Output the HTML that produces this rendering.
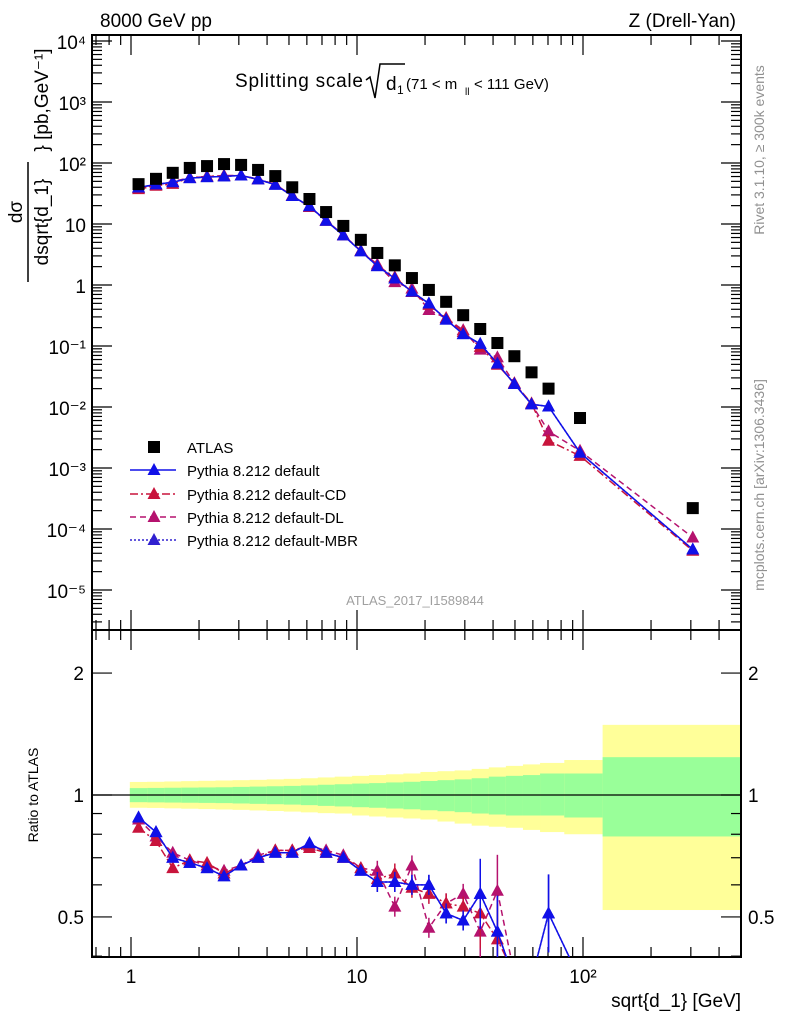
<!DOCTYPE html>
<html><head><meta charset="utf-8"><style>
html,body{margin:0;padding:0;background:#fff;width:786px;height:1024px;overflow:hidden;}
svg{display:block;overflow:hidden;font-family:"Liberation Sans",sans-serif;}
</style></head><body>
<svg id="c" width="786" height="1024" viewBox="0 0 786 1024" xmlns="http://www.w3.org/2000/svg"></svg>
<script>
const xVals=[1.08,1.29,1.53,1.82,2.17,2.58,3.07,3.65,4.35,5.17,6.16,7.3,8.7,10.4,12.3,14.7,17.5,20.8,24.8,29.5,35.1,41.8,49.7,59.2,70.4,97,306];
const atlas=[45,55,69,83,89,96,93,77,61,40,25.7,15.7,9.3,5.5,3.35,2.1,1.3,0.83,0.53,0.32,0.19,0.112,0.068,0.037,0.02,0.0066,0.00022];
const rDefault=[0.88,0.81,0.70,0.68,0.66,0.63,0.67,0.70,0.72,0.72,0.76,0.72,0.70,0.65,0.61,0.61,0.60,0.60,0.51,0.49,0.57,0.46,0.35,0.30,0.51,0.27,0.21];
const rCD=[0.83,0.77,0.66,0.69,0.68,0.64,0.67,0.70,0.73,0.73,0.74,0.72,0.70,0.66,0.62,0.64,0.59,0.57,0.54,0.53,0.51,0.44,0.36,0.31,0.14,0.24,0.20];
const rDL=[0.87,0.79,0.72,0.69,0.67,0.65,0.67,0.71,0.73,0.73,0.75,0.73,0.71,0.66,0.65,0.53,0.67,0.47,0.54,0.57,0.46,0.58,0.36,0.30,0.20,0.29,0.33];
const rMBR=[0.88,0.81,0.70,0.68,0.66,0.63,0.67,0.70,0.72,0.72,0.76,0.72,0.70,0.65,0.61,0.61,0.60,0.60,0.51,0.49,0.57,0.46,0.35,0.30,0.51,0.27,0.21];
const yelUp=[0.077,0.078,0.08,0.082,0.084,0.086,0.088,0.09,0.093,0.096,0.10,0.105,0.11,0.115,0.12,0.125,0.13,0.14,0.145,0.15,0.16,0.17,0.18,0.19,0.20,0.22,0.49];
const yelDn=[0.07,0.071,0.073,0.075,0.077,0.079,0.081,0.084,0.087,0.09,0.094,0.098,0.10,0.11,0.115,0.12,0.125,0.13,0.14,0.15,0.16,0.165,0.17,0.18,0.19,0.20,0.48];
const grnUp=[0.04,0.041,0.042,0.043,0.044,0.045,0.047,0.049,0.051,0.053,0.056,0.06,0.063,0.067,0.07,0.074,0.078,0.083,0.088,0.093,0.10,0.11,0.115,0.12,0.13,0.13,0.24];
const grnDn=[0.04,0.041,0.042,0.043,0.044,0.045,0.047,0.049,0.051,0.053,0.056,0.06,0.063,0.067,0.07,0.074,0.078,0.083,0.088,0.093,0.10,0.105,0.11,0.11,0.11,0.12,0.21];
const yTickLabels=["10⁴","10³","10²","10","1","10⁻¹","10⁻²","10⁻³","10⁻⁴","10⁻⁵"];

const S=document.getElementById('c');const NS="http://www.w3.org/2000/svg";
function el(t,a,p){const e=document.createElementNS(NS,t);for(const k in a)e.setAttribute(k,a[k]);(p||S).appendChild(e);return e;}
const L=92,R=741,T=35,MID=630,B=957;
const X=v=>131+226*Math.log10(v);
const Y=v=>285-61*Math.log10(v);
const RY=v=>795-405*Math.log10(Math.max(v,0.35));
const clipT=el('clipPath',{id:'ct'});el('rect',{x:L,y:T,width:R-L,height:MID-T},clipT);
const clipB=el('clipPath',{id:'cb'});el('rect',{x:L,y:MID,width:R-L,height:B-MID},clipB);
const gB=el('g',{'clip-path':'url(#cb)'});

function edges(i){const lx=Math.log10(xVals[i]);let lo,hi;
 if(i===0)lo=lx-(Math.log10(xVals[1])-lx)/2;else lo=(lx+Math.log10(xVals[i-1]))/2;
 if(i===xVals.length-1)hi=Math.log10(500);else if(i===xVals.length-2)hi=lx+0.1;else hi=(lx+Math.log10(xVals[i+1]))/2;
 if(i===xVals.length-1)lo=Math.log10(xVals[i-1])+0.1;
 return [131+226*lo,131+226*hi];}
xVals.forEach((v,i)=>{const [a,b]=edges(i);
 const y=el('rect',{x:a,y:RY(1+yelUp[i]),width:Math.min(b,R)-a+0.5,height:RY(1-yelDn[i])-RY(1+yelUp[i]),fill:'#ffff99'},gB);
 
 const g=el('rect',{x:a,y:RY(1+grnUp[i]),width:Math.min(b,R)-a+0.5,height:RY(1-grnDn[i])-RY(1+grnUp[i]),fill:'#99ff99'},gB);
 });
el('line',{x1:L,x2:R,y1:795,y2:795,stroke:'#000','stroke-width':1.2});
el('rect',{x:L,y:T,width:R-L,height:MID-T,fill:'none',stroke:'#000','stroke-width':2});
el('rect',{x:L,y:MID,width:R-L,height:B-MID,fill:'none',stroke:'#000','stroke-width':2});
for(let d=-1;d<=2;d++)for(let m=1;m<10;m++){const v=m*Math.pow(10,d);const x=X(v);if(x<L||x>R)continue;const len=m===1?20:10;
 [[T,1],[MID,-1],[MID,1],[B,-1]].forEach(([y0,s])=>el('line',{x1:x,x2:x,y1:y0,y2:y0+s*len,stroke:'#000','stroke-width':1.2}));}
for(let d=-6;d<=4;d++)for(let m=1;m<10;m++){const v=m*Math.pow(10,d);const y=Y(v);if(y<T||y>MID)continue;const len=m===1?20:10;
 el('line',{x1:L,x2:L+len,y1:y,y2:y,stroke:'#000','stroke-width':1.2});el('line',{x1:R,x2:R-len,y1:y,y2:y,stroke:'#000','stroke-width':1.2});}
[0.4,0.5,0.6,0.7,0.8,0.9,1,2].forEach(v=>{const y=RY(v);const len=(v===0.5||v===1||v===2)?20:10;
 el('line',{x1:L,x2:L+len,y1:y,y2:y,stroke:'#000','stroke-width':1.2});el('line',{x1:R,x2:R-len,y1:y,y2:y,stroke:'#000','stroke-width':1.2});});
function txt(s,a,name){const t=el('text',a);t.textContent=s;return t;}
yTickLabels.forEach((s,i)=>txt(s,{x:86,y:42+61*i+7,'font-size':19,'text-anchor':'end'},'y-tick-label'));
[["1",1],["10",10],["10²",100]].forEach(([s,v])=>txt(s,{x:X(v),y:983,'font-size':19,'text-anchor':'middle'},'x-tick-label'));
[["2",2],["1",1],["0.5",0.5]].forEach(([s,v])=>{txt(s,{x:84,y:RY(v)+7,'font-size':19,'text-anchor':'end'},'ratio-tick-label');txt(s,{x:748,y:RY(v)+7,'font-size':19},'ratio-tick-label-right');});
const series=[
 {r:rMBR,c:'#3020d0',dash:'2,2',n:'mbr'},
 {r:rDL,c:'#b5126e',dash:'6,4',n:'dl'},
 {r:rCD,c:'#c8143c',dash:'8,3,2,3',n:'cd'},
 {r:rDefault,c:'#1010e8',dash:'',n:'default'}];
function tri(g,x,y,c,nm){const p=el('path',{d:`M${x},${y-7}L${x+6.5},${y+5}L${x-6.5},${y+5}Z`,fill:c},g);}
series.forEach(s=>{
 const gt=el('g',{'clip-path':'url(#ct)'});
 const pts=xVals.map((v,i)=>[X(v),Y(atlas[i]*s.r[i])]);
 el('polyline',{points:pts.map(p=>p.join(',')).join(' '),fill:'none',stroke:s.c,'stroke-width':1.5,'stroke-dasharray':s.dash},gt);
 pts.forEach(p=>tri(gt,p[0],p[1],s.c,s.n+'-point'));
 const gb=el('g',{'clip-path':'url(#cb)'});
 const rp=xVals.map((v,i)=>[X(v),RY(s.r[i])]);
 el('polyline',{points:rp.map(p=>p.join(',')).join(' '),fill:'none',stroke:s.c,'stroke-width':1.5,'stroke-dasharray':s.dash},gb);
 rp.forEach((p,i)=>{if(s.r[i]>=0.4){const e=i<14?3:i<20?10:15+i;el('line',{x1:p[0],x2:p[0],y1:p[1]-e,y2:Math.min(p[1]+e,1000),stroke:s.c,'stroke-width':1.5},gb);}tri(gb,p[0],p[1],s.c,s.n+'-ratio-point');});
});
const ga=el('g',{});
xVals.forEach((v,i)=>{const r=el('rect',{x:X(v)-6,y:Y(atlas[i])-6,width:12,height:12,fill:'#000'},ga);});
const lg=el('g',{});
el('rect',{x:148,y:441,width:12,height:12,fill:'#000'},lg);
txt('ATLAS',{x:187,y:453,'font-size':15},'legend-entry');
[['Pythia 8.212 default','#1010e8','',470],['Pythia 8.212 default-CD','#c8143c','8,3,2,3',494],['Pythia 8.212 default-DL','#b5126e','6,4',517],['Pythia 8.212 default-MBR','#3020d0','2,2',540]].forEach(([s,c,d,y])=>{
 el('line',{x1:130,x2:176,y1:y,y2:y,stroke:c,'stroke-width':1.5,'stroke-dasharray':d},lg);tri(lg,154,y,c,'legend-marker');
 txt(s,{x:187,y:y+6,'font-size':15},'legend-entry');});
txt('8000 GeV pp',{x:100,y:27,'font-size':19},'beam-label');
txt('Z (Drell-Yan)',{x:736,y:27,'font-size':19,'text-anchor':'end'},'process-label');
txt('Splitting scale',{x:235,y:87,'font-size':19,'textLength':128},'plot-title');
el('path',{d:'M366,80 L370,77 L375,98 L380,64 L405,64',fill:'none',stroke:'#000','stroke-width':1.5});
txt('d',{x:386,y:90,'font-size':19},'title-d');txt('1',{x:397,y:94,'font-size':12},'title-sub');
txt('(71 < m',{x:406,y:89,'font-size':15},'title-range');txt('ll',{x:465,y:95,'font-size':10},'title-sub2');txt('< 111 GeV)',{x:474,y:89,'font-size':15},'title-range2');
txt('ATLAS_2017_I1589844',{x:415,y:605,'font-size':13,fill:'#a0a0a0','text-anchor':'middle'},'analysis-id');
txt('Rivet 3.1.10, ≥ 300k events',{x:0,y:0,'font-size':14,fill:'#909090','text-anchor':'middle',transform:'translate(764,150) rotate(-90)'},'rivet-label');
txt('mcplots.cern.ch [arXiv:1306.3436]',{x:0,y:0,'font-size':14,fill:'#909090','text-anchor':'middle',transform:'translate(764,485) rotate(-90)'},'mcplots-label');
txt('sqrt{d_1} [GeV]',{x:741,y:1007,'font-size':19,'text-anchor':'end'},'x-axis-title');
txt('Ratio to ATLAS',{x:0,y:0,'font-size':14,'text-anchor':'middle',transform:'translate(38,795) rotate(-90)'},'ratio-axis-title');
txt('dσ',{x:0,y:0,'font-size':19,'text-anchor':'middle',transform:'translate(22,212) rotate(-90)'},'y-title-num');
el('line',{x1:28,x2:28,y1:162,y2:282,stroke:'#000','stroke-width':1.5});
txt('dsqrt{d_1}',{x:0,y:0,'font-size':19,'text-anchor':'middle',transform:'translate(48,222) rotate(-90)'},'y-title-den');
txt('} [pb,GeV⁻¹]',{x:0,y:0,'font-size':19,'text-anchor':'middle',transform:'translate(48,100) rotate(-90)'},'y-title-unit');
</script>
</body></html>
